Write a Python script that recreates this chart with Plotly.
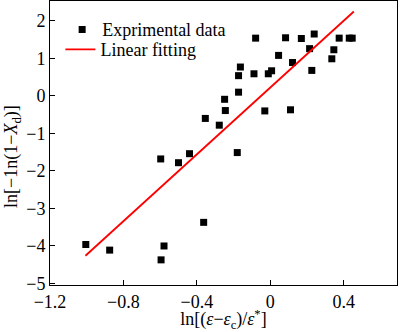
import plotly.graph_objects as go

# Experimental data
exp_x = [-1.005, -0.875, -0.597, -0.595, -0.579, -0.50, -0.44, -0.363, -0.354, -0.278,
         -0.249, -0.245, -0.18, -0.173, -0.173, -0.163, -0.089, -0.08, -0.03, -0.011,
         0.007, 0.045, 0.083, 0.11, 0.121, 0.169, 0.214, 0.226, 0.239, 0.335,
         0.346, 0.375, 0.43, 0.446]
exp_y = [-3.96, -4.11, -1.68, -4.37, -4.00, -1.78, -1.54, -3.37, -0.60, -0.78,
         -0.09, -0.39, -1.51, 0.10, 0.54, 0.77, 0.59, 1.54, -0.40, 0.59,
         0.67, 1.08, 1.55, -0.37, 0.89, 1.53, 1.26, 0.68, 1.65, 0.99,
         1.23, 1.54, 1.54, 1.54]

# Linear fitting line endpoints
fit_x = [-1.007, 0.455]
fit_y = [-4.26, 2.25]

x_ticks = [-1.2, -0.8, -0.4, 0, 0.4]
x_ticklabels = ["−1.2", "−0.8", "−0.4", "0", "0.4"]
y_ticks = [-5, -4, -3, -2, -1, 0, 1, 2]

FONT = "Liberation Serif, Times New Roman, serif"

fig = go.Figure()
fig.add_trace(go.Scatter(
    x=exp_x, y=exp_y, mode="markers", name="Exprimental data",
    marker=dict(symbol="square", size=7, color="black"),
    legend="legend",
))
fig.add_trace(go.Scatter(
    x=fit_x, y=fit_y, mode="lines", name="Linear fitting",
    line=dict(color="#ff0000", width=1.8),
    legend="legend2",
))

axis_common = dict(
    showline=True, linecolor="black", linewidth=1, mirror=True,
    ticks="inside", ticklen=5, tickcolor="black", tickwidth=1,
    showgrid=False, zeroline=False,
    tickfont=dict(family=FONT, size=18, color="black"),
)

fig.update_xaxes(
    range=[-1.2, 0.69], tickvals=x_ticks, ticktext=x_ticklabels,
    title=dict(text="ln[(<i>ε</i>−<i>ε</i><sub>c</sub>)/<i>ε</i><sup>*</sup>]",
               font=dict(family=FONT, size=18, color="black"), standoff=4),
    **axis_common,
)
fig.update_yaxes(
    range=[-5.04, 2.53], tickvals=y_ticks,
    **axis_common,
)

fig.add_annotation(
    text="ln[−1n(1−<i>X</i><sub>d</sub>)]", textangle=-90,
    xref="paper", yref="paper", x=-0.11, y=0.454,
    xanchor="center", yanchor="middle", showarrow=False,
    font=dict(family=FONT, size=18, color="black"),
)

legend_common = dict(
    xanchor="left", yanchor="top",
    bgcolor="rgba(0,0,0,0)", borderwidth=0,
    font=dict(family=FONT, size=18, color="black"),
    itemwidth=30,
)

fig.update_layout(
    width=400, height=332,
    margin=dict(l=50, r=3, t=1, b=47),
    paper_bgcolor="white", plot_bgcolor="white",
    font=dict(family=FONT, size=18, color="black"),
    showlegend=True,
    legend=dict(x=0.035, y=0.964, **legend_common),
    legend2=dict(x=0.03, y=0.894, **legend_common),
)

fig.write_html("out.html")
